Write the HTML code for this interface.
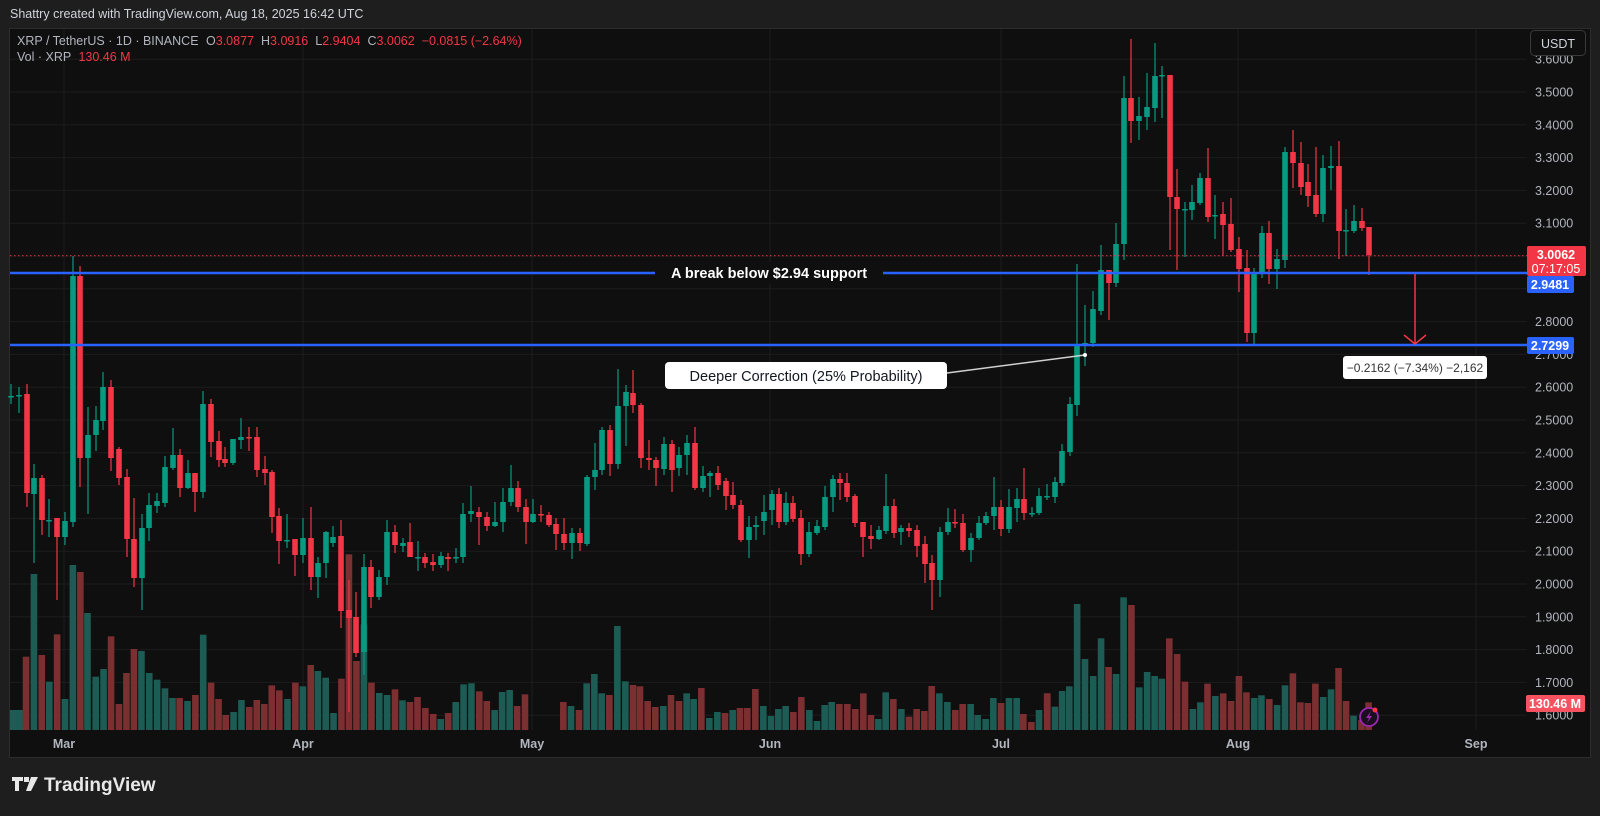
<!DOCTYPE html>
<html><head><meta charset="utf-8">
<style>
html,body{margin:0;padding:0;background:#1e1e1e;}
body{width:1600px;height:816px;overflow:hidden;position:relative;font-family:"Liberation Sans",sans-serif;}
svg{position:absolute;left:0;top:0;}
</style></head>
<body>
<svg id="s" width="1600" height="816" xmlns="http://www.w3.org/2000/svg">
<rect x="0" y="0" width="1600" height="816" fill="#1e1e1e"/>
<rect x="9.5" y="28.5" width="1581" height="729" fill="#0f0f0f" stroke="#2c2c2c" stroke-width="1"/>
<g id="grid"></g>
<g id="vol"></g>
<g id="candles"></g>
<g id="over"></g>
<text x="10" y="18" fill="#d1d4dc" font-size="12.5">Shattry created with TradingView.com, Aug 18, 2025 16:42 UTC</text>
<text x="17" y="45" font-size="12.5" fill="#b2b5be">XRP / TetherUS · 1D · BINANCE <tspan fill="#b2b5be" dx="4">O</tspan><tspan fill="#f23645">3.0877</tspan><tspan fill="#b2b5be" dx="7">H</tspan><tspan fill="#f23645">3.0916</tspan><tspan fill="#b2b5be" dx="7">L</tspan><tspan fill="#f23645">2.9404</tspan><tspan fill="#b2b5be" dx="7">C</tspan><tspan fill="#f23645">3.0062</tspan><tspan fill="#f23645" dx="7">−0.0815 (−2.64%)</tspan></text>
<text x="17" y="61" font-size="12.5" fill="#b2b5be">Vol · XRP <tspan fill="#f23645" dx="4">130.46 M</tspan></text>
<g font-size="12.5" fill="#b2b5be" font-weight="bold" text-anchor="middle">
<text x="64" y="748">Mar</text><text x="303" y="748">Apr</text><text x="532" y="748">May</text><text x="770" y="748">Jun</text><text x="1001" y="748">Jul</text><text x="1238" y="748">Aug</text><text x="1476" y="748">Sep</text>
</g>
<g transform="translate(12,777)" fill="#e8e8e8">
<path d="M0 0h11v4h-4v10h-4v-10h-3z M12 0h5v5h-5z M19 0h7l-7 14h-5z"/>
<text x="32" y="14" font-size="19" font-weight="bold" fill="#e8e8e8">TradingView</text>
</g>
</svg>
<script>
var NS="http://www.w3.org/2000/svg";
function el(p,t,a,txt){var e=document.createElementNS(NS,t);for(var k in a)e.setAttribute(k,a[k]);if(txt!==undefined)e.textContent=txt;document.getElementById(p).appendChild(e);return e;}
function Y(p){return 92+(3.5-p)*328;}
// grid
for(var p=1.6;p<=3.65;p+=0.1){var y=Y(p);el("grid","line",{x1:10,x2:1527,y1:y,y2:y,stroke:"#1d1d1d","stroke-width":1});}
[64,303,532,770,1001,1238,1476].forEach(function(x){el("grid","line",{x1:x,x2:x,y1:29,y2:730,stroke:"#1d1d1d","stroke-width":1});});
el("grid","line",{x1:1527,x2:1527,y1:29,y2:757,stroke:"#0f0f0f"});
// price labels
var labs=[3.5,3.4,3.3,3.2,3.1,2.8,2.7,2.6,2.5,2.4,2.3,2.2,2.1,2.0,1.9,1.8,1.7,1.6];
labs.forEach(function(p){el("over","text",{x:1535,y:Y(p)+4.5,"font-size":12.5,fill:"#b2b5be"},p.toFixed(4));});
el("over","text",{x:1535,y:Y(3.6)+4.5,"font-size":12.5,fill:"#b2b5be"},"3.6000");
// volume
var V=[];
[[37,510,"g"],[55,510,"g"],[73,350,"r"],[95,102,"g"],[117,345,"r"],[138,425,"g"],[160,283,"r"],[182,477,"g"],[204,75,"g"],[225,96,"r"],[245,219,"g"],[268,410,"g"],[290,387,"g"],[311,289,"r"],[333,492,"r"],[354,399,"r"],[375,327,"r"],[396,333,"g"],[418,399,"g"],[440,419,"g"],[462,445,"g"],[483,474,"g"],[503,474,"r"],[525,483,"g"],[547,465,"r"],[569,284,"g"],[591,428,"r"],[612,477,"r"],[632,525,"r"],[654,516,"g"],[676,480,"g"],[698,501,"r"],[719,480,"r"],[740,492,"r"],[761,436,"r"],[782,451,"r"],[805,477,"g"],[827,428,"r"],[848,439,"g"],[870,375,"r"],[890,393,"g"],[912,413,"g"],[934,519,"g"],[956,416,"r"],[977,43,"r"],[998,363,"r"],[1019,253,"g"],[1040,428,"r"],[1062,459,"g"],[1084,465,"g"],[1106,448,"r"],[1127,481,"g"],[1148,486,"r"],[1169,471,"r"],[1191,504,"r"],[1213,522,"r"],[1234,537,"g"],[1255,519,"r"],[1276,486,"g"],[1298,433,"g"],[1320,430,"g"],[1342,454,"r"],[1363,483,"r"],[1385,510,"g"],[1406,456,"g"],[1427,450,"g"],[1448,498,"r"],[1470,463,"r"]].forEach(function(v){V.push([v[0]/2.8,730-(570-v[1])/3,v[2]]);});
[[10,426,"r"],[33,438,"g"],[57,450,"r"],[80,370,"g"],[103,342,"g"],[125,400,"g"],[148,405,"r"],[172,198,"g"],[196,364,"g"],[219,375,"r"],[240,379,"r"],[263,423,"r"],[286,441,"r"],[310,438,"g"],[333,405,"r"],[357,423,"r"],[380,400,"g"],[401,417,"g"],[424,384,"r"],[448,474,"g"],[472,456,"g"],[495,459,"r"],[518,450,"g"],[540,444,"r"],[562,444,"r"],[586,387,"r"],[610,438,"g"],[633,468,"g"],[655,447,"g"],[677,438,"g"],[700,456,"r"],[724,411,"r"],[748,450,"g"],[771,483,"g"],[794,435,"g"],[815,426,"g"],[838,432,"r"],[862,432,"r"],[886,447,"r"],[910,400,"r"],[933,465,"r"],[955,477,"g"],[977,397,"g"],[1000,417,"r"],[1024,447,"g"],[1047,470,"r"],[1070,447,"r"],[1093,453,"r"],[1115,378,"r"],[1138,400,"g"],[1162,426,"g"],[1186,450,"r"],[1208,432,"r"],[1232,432,"g"],[1253,465,"g"],[1277,477,"g"],[1300,414,"g"],[1323,429,"r"],[1347,414,"g"],[1370,414,"g"],[1390,462,"r"],[1414,486,"r"],[1437,450,"g"],[1462,400,"r"]].forEach(function(v){V.push([560+v[0]/3,730-(510-v[1])/3,v[2]]);});
[[20,400,"r"],[42,440,"g"],[62,393,"g"],[82,379,"g"],[104,132,"g"],[126,297,"g"],[149,348,"g"],[171,235,"g"],[192,321,"r"],[213,342,"g"],[234,112,"g"],[256,135,"r"],[278,382,"g"],[300,336,"g"],[321,348,"g"],[341,356,"g"],[362,235,"r"],[384,282,"r"],[406,365,"r"],[428,447,"g"],[449,427,"g"],[469,371,"r"],[491,408,"g"],[513,400,"r"],[535,423,"r"],[557,348,"r"],[578,397,"r"],[600,414,"g"],[620,406,"g"],[642,417,"r"],[664,435,"g"],[686,376,"g"],[708,340,"r"],[729,427,"r"],[750,429,"r"],[771,371,"r"],[793,411,"g"],[815,388,"g"],[836,324,"r"],[857,423,"r"],[878,467,"g"],[900,480,"r"],[920,427,"r"]].forEach(function(v){V.push([1040+v[0]/2.8,730-(510-v[1])/3,v[2]]);});
V.forEach(function(v){el("vol","rect",{x:v[0]-3.3,y:v[1],width:6.6,height:730-v[1],fill:v[2]=="g"?"#1d5b55":"#7b2f30"});});
// candles [x,o,c,h,l]
var C=[[11,396,396,384,404],[19,395,395,387,413],[27,394,493,384,507],[34,494,478,464,563],[42,478,520,475,535],[49,520,520,499,537],[57,518,537,518,600],[65,537,521,512,545],[73,522,276,256,527],[80,276,458,266,487],[88,458,435,407,514],[96,435,420,406,451],[103,421,387,372,430],[111,387,458,380,471],[119,449,478,447,485],[127,477,539,469,557],[134,539,578,498,587],[142,578,528,514,610],[149,528,505,493,541],[157,506,501,493,513],[165,503,467,456,507],[173,468,455,428,470],[180,455,488,449,497],[188,488,473,460,489],[195,473,492,473,512],[203,492,404,391,498],[211,404,442,399,457],[219,441,460,431,467],[225,459,463,447,467],[233,463,439,439,465],[241,440,437,418,449],[249,437,438,427,451],[257,437,470,427,477],[265,469,473,456,485],[272,472,517,470,533],[279,516,541,508,564],[287,540,540,514,548],[295,539,555,539,576],[303,555,538,518,563],[311,538,577,507,590],[318,577,563,557,598],[326,563,532,531,578],[333,543,537,526,547],[341,536,611,520,628],[349,610,618,580,712],[356,617,653,592,657],[364,652,567,554,675],[371,567,597,560,608],[379,597,577,570,600],[387,577,532,520,585],[395,532,545,525,553],
[403,546,543,538,552],[410,542,557,523,557],[418,557,557,541,571],[425,557,563,553,568],[433,562,565,554,571],[441,565,556,552,568],[448,557,559,553,571],[456,558,557,548,563],[463,557,514,503,563],[471,514,511,486,522],[479,512,517,507,545],[487,517,526,512,531],[495,526,522,502,527],[503,522,502,488,532],[511,502,488,465,506],[518,488,507,481,512],[526,507,522,499,544],[533,522,514,499,523],[541,514,515,505,522],[549,515,525,512,527],[556,524,534,518,550],[564,534,543,518,550],[572,543,533,528,559],[580,533,543,528,551],[587,544,477,475,546],[595,477,470,443,490],[602,470,430,427,475],[610,430,464,425,476],[618,464,406,369,469],[626,406,392,385,446],[633,393,405,370,413],[641,405,458,403,468],[649,458,460,440,470],[656,460,468,457,486],[664,469,444,437,475],[672,444,470,440,492],[679,468,455,447,476],[687,455,443,435,475],[695,443,488,427,490],[703,488,476,466,492],[710,476,473,471,497],[718,473,485,466,490],[726,481,496,478,510],[733,495,505,482,509],[741,505,540,500,542],[749,540,527,516,558],[756,527,525,516,540],[764,521,512,495,535],[772,510,494,490,525],[779,494,522,488,528],
[786,522,503,492,525],[793,503,519,496,522],[801,518,554,510,565],[809,554,532,522,557],[817,533,526,520,535],[825,527,497,486,530],[833,497,479,475,512],[840,479,483,473,500],[847,483,497,473,502],[855,496,523,494,527],[863,522,537,525,557],[871,536,539,525,549],[879,539,530,526,540],[886,531,506,474,534],[894,506,533,499,538],[901,532,528,525,545],[909,528,531,523,537],[917,530,546,525,557],[925,544,564,536,583],[932,563,580,555,610],[940,580,532,527,597],[948,532,522,508,535],[955,522,523,509,528],[963,523,550,514,552],[971,550,538,533,562],[979,538,523,516,540],[986,523,516,512,525],[994,516,507,477,530],[1001,507,529,500,536],[1009,529,507,489,533],[1017,508,499,488,522],[1024,499,513,468,520],[1032,513,513,507,517],[1039,513,496,488,515],[1047,496,496,484,500],[1055,497,482,477,503],[1062,483,451,444,486],[1070,452,404,397,456],[1077,405,344,264,416],[1085,345,343,305,366],[1093,343,309,291,347],[1101,311,270,245,315],[1109,270,283,270,320],[1116,283,244,223,287],[1124,244,98,76,260],[1131,98,121,39,143],[1139,121,116,97,140],[1147,117,107,73,130],[1155,108,76,43,122],[1162,75,75,66,118],[1170,75,197,75,250],[1177,197,209,169,270],[1185,209,209,202,257],[1192,210,202,185,220],[1200,203,178,173,205],[1208,178,217,148,222],[1215,215,215,195,239],[1223,214,225,202,256],[1231,224,250,198,252],[1239,249,269,237,292],[1247,268,333,250,342],[1254,333,273,268,345],[1262,273,233,226,278],[1269,233,269,221,284],[1277,269,259,249,289],[1285,260,152,147,268],[1293,152,163,130,188],[1301,163,187,142,195],[1308,182,196,164,207],[1316,195,214,147,217],[1323,214,168,155,222],[1331,168,166,146,190],[1339,166,231,141,259],[1346,230,230,209,256],[1354,231,221,205,233],[1362,221,228,208,231],[1369,227,255,227,275]];
C.forEach(function(c){var up=c[2]<c[1]||(c[2]==c[1]&&false);var col=c[2]<c[1]?"#089981":(c[2]>c[1]?"#f23645":"#089981");
el("candles","line",{x1:c[0],x2:c[0],y1:c[3],y2:c[4],stroke:col,"stroke-width":1.2});
var t=Math.min(c[1],c[2]),h=Math.max(1.5,Math.abs(c[2]-c[1]));el("candles","rect",{x:c[0]-2.8,y:t,width:5.6,height:h,fill:col});});
// overlays
el("over","line",{x1:10,x2:1527,y1:255.7,y2:255.7,stroke:"#f23645","stroke-width":1,"stroke-dasharray":"1.5 2.5"});
el("over","line",{x1:10,x2:1527,y1:273,y2:273,stroke:"#2962ff","stroke-width":2.5});
el("over","line",{x1:10,x2:1527,y1:345,y2:345,stroke:"#2962ff","stroke-width":2.5});
el("over","rect",{x:655,y:262,width:228,height:22,fill:"#0f0f0f"});
el("over","text",{x:769,y:278,"font-size":14.5,"font-weight":"bold",fill:"#ffffff","text-anchor":"middle"},"A break below $2.94 support");
el("over","line",{x1:947,x2:1085,y1:373,y2:355,stroke:"#d0d0d0","stroke-width":1.5});
el("over","circle",{cx:1085,cy:355,r:2,fill:"#fff"});
el("over","rect",{x:665,y:362,width:282,height:27,rx:4,fill:"#ffffff"});
el("over","text",{x:806,y:381,"font-size":14.5,fill:"#131722","text-anchor":"middle"},"Deeper Correction (25% Probability)");
el("over","line",{x1:1415,x2:1415,y1:274,y2:344,stroke:"#f23645","stroke-width":1.5});
el("over","polyline",{points:"1404,335 1415,344 1426,335",stroke:"#f23645","stroke-width":1.5,fill:"none"});
el("over","rect",{x:1343,y:356,width:144,height:23,rx:3,fill:"#ffffff"});
el("over","text",{x:1415,y:372,"font-size":12,fill:"#333","text-anchor":"middle"},"−0.2162 (−7.34%) −2,162");
// axis boxes
el("over","rect",{x:1527,y:246,width:59,height:30,rx:2,fill:"#f23645"});
el("over","text",{x:1556,y:259,"font-size":12.5,"font-weight":"bold",fill:"#fff","text-anchor":"middle"},"3.0062");
el("over","text",{x:1556,y:273,"font-size":12.5,fill:"#fff","text-anchor":"middle"},"07:17:05");
el("over","rect",{x:1527,y:276,width:47,height:17,rx:2,fill:"#2962ff"});
el("over","text",{x:1550,y:289,"font-size":12.5,"font-weight":"bold",fill:"#fff","text-anchor":"middle"},"2.9481");
el("over","rect",{x:1527,y:337,width:47,height:17,rx:2,fill:"#2962ff"});
el("over","text",{x:1550,y:350,"font-size":12.5,"font-weight":"bold",fill:"#fff","text-anchor":"middle"},"2.7299");
el("over","rect",{x:1526,y:695,width:59,height:17,rx:2,fill:"#f7525f"});
el("over","text",{x:1555,y:708,"font-size":12.5,"font-weight":"bold",fill:"#fff","text-anchor":"middle"},"130.46 M");
el("over","rect",{x:1530.5,y:30.5,width:55,height:25,rx:4,fill:"#0f0f0f",stroke:"#3a3a3a"});
el("over","text",{x:1558,y:48,"font-size":12.5,fill:"#d1d4dc","text-anchor":"middle"},"USDT");
el("over","circle",{cx:1369,cy:717,r:9,fill:"#1a0f1f",stroke:"#9c27b0","stroke-width":1.8});
el("over","path",{d:"M1371 711 L1366 718 L1369 718 L1367 723 L1372 716 L1369 716 Z",fill:"#9c27b0"});
el("over","circle",{cx:1375,cy:710,r:2.5,fill:"#f23645"});
</script>
</body></html>
